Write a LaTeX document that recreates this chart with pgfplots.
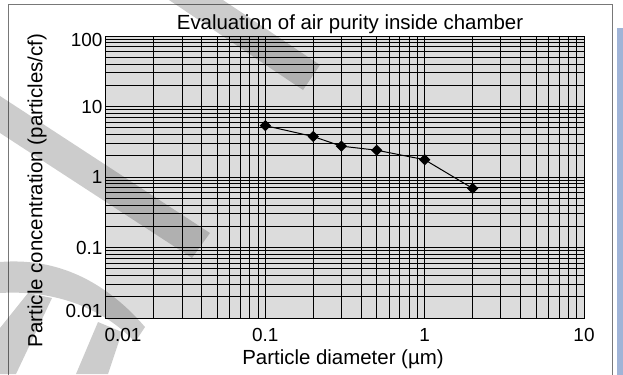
\documentclass[border=0pt]{standalone}
\usepackage{pgfplots}
\pgfplotsset{compat=1.18}
\usepackage{fontspec}
\setmainfont{Liberation Sans}
\definecolor{bggray}{RGB}{220,220,220}
\definecolor{framegray}{RGB}{120,120,120}
\definecolor{bluestrip}{RGB}{160,180,215}
\begin{document}
\begin{tikzpicture}
\begin{scope}[x=1bp,y=-1bp]
\path[use as bounding box] (0,0) rectangle (623,374);
\draw[framegray, line width=1bp] (8,380) -- (8,4) -- (612,4) -- (612,380);
\fill[bluestrip] (617,28) rectangle (623,380);
\end{scope}
\begin{axis}[
  at={(106bp,-318bp)}, anchor=south west,
  scale only axis, width=478bp, height=282bp,
  xmode=log, ymode=log,
  xmin=0.01, xmax=10, ymin=0.01, ymax=100,
  xtick={0.01,0.1,1,10}, xticklabels={\hspace*{34bp}0.01,0.1,1,10},
  ytick={0.01,0.1,1,10,100},
  yticklabels={\raisebox{0pt}[\height][14bp]{0.01},0.1,1,10,\raisebox{0pt}[\dimexpr\height+8bp\relax][0pt]{100}},
  grid=both,
  major grid style={black, line width=1bp},
  minor grid style={black, line width=1bp},
  major tick length=0pt, minor tick length=0pt,
  axis background/.style={fill=bggray},
  axis line style={black, line width=1bp},
  tick label style={font=\fontsize{19}{19}\selectfont},
  xticklabel style={yshift=-7bp},
]
\addplot[black, line width=1bp, mark=square*, mark size=3.5bp, mark options={rotate=45}] coordinates {
  (0.1,5.35) (0.2,3.75) (0.3,2.74) (0.5,2.4) (1,1.76) (2,0.69)
};
\end{axis}
\begin{scope}[x=1bp,y=-1bp]
\node[anchor=base, font=\fontsize{20.5}{20.5}\selectfont, inner sep=0pt] at (350,29) {Evaluation of air purity inside chamber};
\node[anchor=base, font=\fontsize{20.5}{20.5}\selectfont, inner sep=0pt] at (343,364) {Particle diameter (µm)};
\node[rotate=90, anchor=center, font=\fontsize{20.5}{20.5}\selectfont, inner sep=0pt] at (37,190.5) {Particle concentration (particles/cf)};
% watermark bands
\fill[black, opacity=0.2] (169,0) -- (223,0) -- (320,65) -- (303,90) -- cycle;
\fill[black, opacity=0.2] (0,96) -- (210,233) -- (192,258) -- (0,133) -- cycle;
\fill[black, opacity=0.2] (0,262) .. controls (50,258) and (100,275) .. (145,327) -- (135,342) .. controls (100,305) and (50,290) .. (0,293) -- cycle;
\fill[black, opacity=0.2] (0,328) -- (28,293) -- (52,298) -- (16,374) -- (0,374) -- cycle;
\fill[black, opacity=0.2] (76,374) -- (98,322) -- (122,332) -- (108,374) -- cycle;
\end{scope}
\end{tikzpicture}
\end{document}
